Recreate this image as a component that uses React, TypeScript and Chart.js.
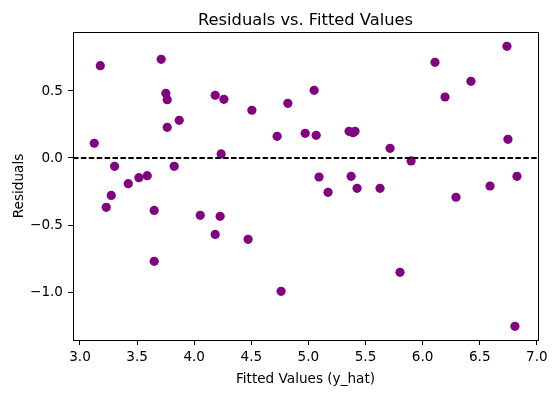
import React, { useEffect, useRef } from "react";
import { Chart, registerables } from "chart.js";

Chart.register(...registerables);

const fittedValues: number[] = [
  3.125, 3.178, 3.711, 3.752, 3.764, 3.764, 3.869, 4.184, 3.825, 3.303,
  3.423, 3.516, 3.589, 3.274, 3.230, 3.650, 3.650, 4.053, 4.184, 4.227,
  4.236, 4.472, 4.761, 5.093, 5.172, 5.374, 5.426, 5.627, 4.260, 4.505,
  4.820, 5.050, 4.726, 4.972, 5.068, 5.356, 5.391, 5.408, 6.738, 6.108,
  6.423, 6.196, 6.747, 5.715, 5.899, 5.802, 6.292, 6.590, 6.826, 6.808,
];

const residuals: number[] = [
  0.110, 0.689, 0.736, 0.483, 0.435, 0.229, 0.281, 0.468, -0.062, -0.062,
  -0.192, -0.147, -0.132, -0.279, -0.368, -0.391, -0.771, -0.428, -0.570, -0.435,
  0.030, -0.607, -0.995, -0.142, -0.256, -0.137, -0.226, -0.226, 0.438, 0.356,
  0.408, 0.505, 0.162, 0.184, 0.169, 0.199, 0.189, 0.199, 0.833, 0.714,
  0.572, 0.455, 0.139, 0.072, -0.022, -0.853, -0.293, -0.209, -0.137, -1.256,
];

const titleText = "Residuals vs. Fitted Values";
const xLabel = "Fitted Values (y_hat)";
const yLabel = "Residuals";
const referenceY = 0;

const FONT = "'DejaVu Sans', sans-serif";

const fmt = (v: number) => {
  const s = Number(v).toFixed(1);
  return s.startsWith("-") ? "\u2212" + s.slice(1) : s;
};

const decorPlugin = {
  id: "decor",
  afterDatasetsDraw(chart: any) {
    const { ctx, chartArea, scales } = chart;
    const y0 = scales.y.getPixelForValue(referenceY);
    ctx.save();
    ctx.strokeStyle = "#000";
    ctx.lineWidth = 1.8;
    ctx.setLineDash([5.5, 2.4]);
    ctx.beginPath();
    ctx.moveTo(chartArea.left, y0);
    ctx.lineTo(chartArea.right, y0);
    ctx.stroke();
    ctx.restore();
  },
  afterDraw(chart: any) {
    const { ctx, chartArea } = chart;
    ctx.save();
    ctx.strokeStyle = "#000";
    ctx.lineWidth = 1;
    ctx.setLineDash([]);
    ctx.strokeRect(
      Math.round(chartArea.left) + 0.5,
      Math.round(chartArea.top) + 0.5,
      Math.round(chartArea.right - chartArea.left),
      Math.round(chartArea.bottom - chartArea.top)
    );
    const cx = (chartArea.left + chartArea.right) / 2;
    const cy = (chartArea.top + chartArea.bottom) / 2;
    ctx.fillStyle = "#000";
    ctx.textAlign = "center";
    ctx.textBaseline = "alphabetic";
    ctx.font = `16.3px ${FONT}`;
    ctx.fillText(titleText, cx, 25);
    ctx.font = `13.6px ${FONT}`;
    ctx.fillText(xLabel, cx, 383);
    ctx.translate(22.5, cy);
    ctx.rotate(-Math.PI / 2);
    ctx.fillText(yLabel, 0, 0);
    ctx.restore();
  },
};

export default function App() {
  const ref = useRef<HTMLCanvasElement | null>(null);

  useEffect(() => {
    if (!ref.current) return;
    const points = fittedValues.map((x, i) => ({ x, y: residuals[i] }));
    const chart = new Chart(ref.current, {
      type: "scatter",
      data: {
        datasets: [
          {
            data: points,
            backgroundColor: "#800080",
            borderColor: "#800080",
            borderWidth: 0,
            pointRadius: 4.6,
            pointHoverRadius: 4.6,
          },
        ],
      },
      options: {
        responsive: false,
        animation: false,
        events: [],
        layout: { padding: { top: 32, right: 20, left: 0, bottom: 0 } },
        plugins: {
          legend: { display: false },
          title: { display: false },
          tooltip: { enabled: false },
        },
        scales: {
          x: {
            type: "linear",
            min: 2.939,
            max: 7.01,
            afterFit: (s: any) => {
              s.height = 53;
            },
            border: { display: false },
            grid: {
              drawOnChartArea: false,
              drawTicks: true,
              tickLength: 5,
              color: "#000",
              lineWidth: 1,
            },
            ticks: {
              stepSize: 0.5,
              includeBounds: false,
              autoSkip: false,
              maxRotation: 0,
              padding: 4,
              color: "#000",
              font: { family: FONT, size: 13.6 },
              callback: (v: any) => fmt(Number(v)),
            },
          },
          y: {
            type: "linear",
            min: -1.358,
            max: 0.94,
            afterFit: (s: any) => {
              s.width = 73;
            },
            border: { display: false },
            grid: {
              drawOnChartArea: false,
              drawTicks: true,
              tickLength: 5,
              color: "#000",
              lineWidth: 1,
            },
            ticks: {
              stepSize: 0.5,
              includeBounds: false,
              autoSkip: false,
              padding: 5,
              color: "#000",
              font: { family: FONT, size: 13.6 },
              callback: (v: any) => fmt(Number(v)),
            },
          },
        },
      },
      plugins: [decorPlugin],
    });
    return () => chart.destroy();
  }, []);

  return (
    <div style={{ position: "fixed", left: 0, top: 0, width: 558, height: 393, background: "#fff" }}>
      <canvas ref={ref} width={558} height={393} style={{ display: "block" }} />
    </div>
  );
}
